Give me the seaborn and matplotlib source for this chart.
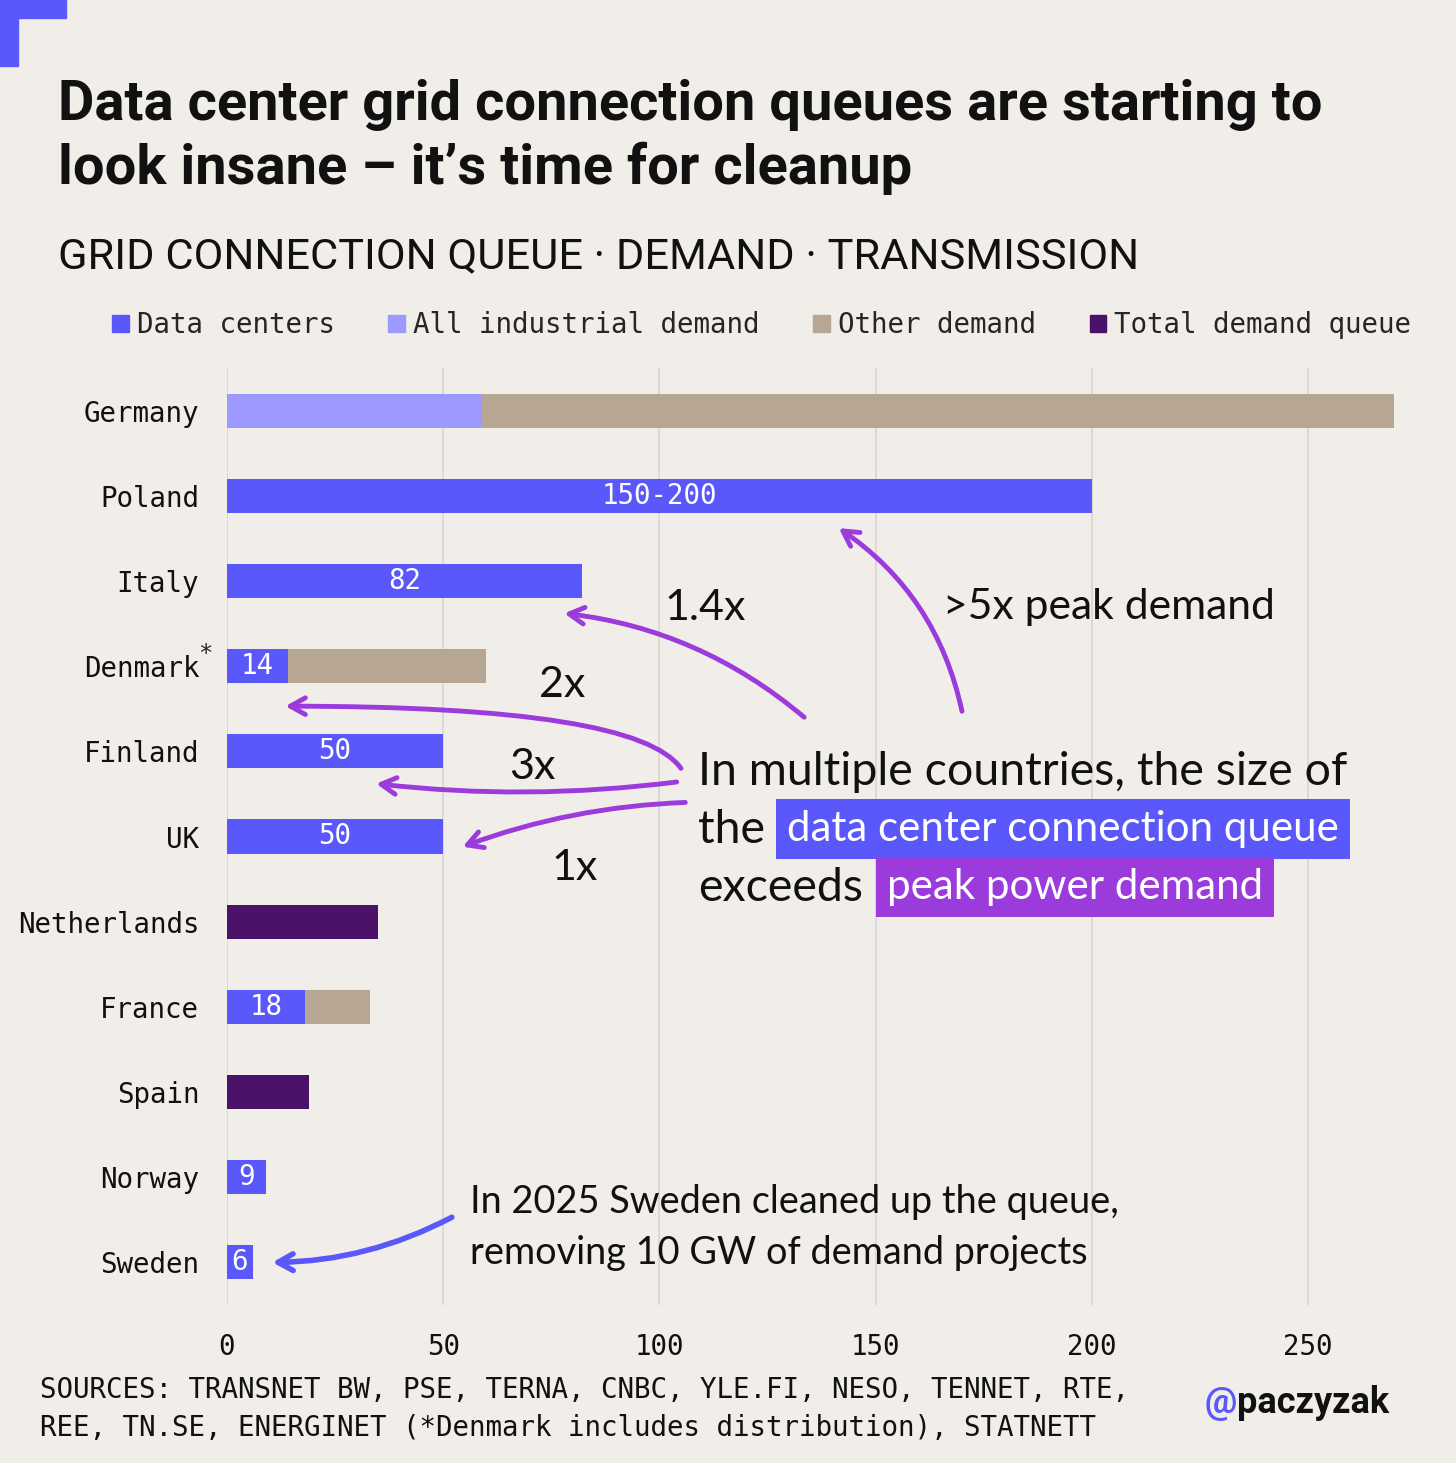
import matplotlib.pyplot as plt
import matplotlib.patches as mpatches
import pandas as pd
import seaborn as sns

W, H = 1456, 1463
BG = "#F1EEE9"
DC_COLOR = "#5A57FB"
IND_COLOR = "#9C99FF"
OTHER_COLOR = "#B7A693"
TOTAL_COLOR = "#4A1268"
PURPLE = "#9B3BDB"
MONO = "DejaVu Sans Mono"
HAND = "Lato"
MONO_SIZE = 19.8

countries = ["Germany", "Poland", "Italy", "Denmark", "Finland", "UK",
             "Netherlands", "France", "Spain", "Norway", "Sweden"]
data_centers = [0, 200, 82, 14, 50, 50, 0, 18, 0, 9, 6]
industrial = [59, 0, 0, 0, 0, 0, 0, 0, 0, 0, 0]
other_demand = [211, 0, 0, 46, 0, 0, 0, 15, 0, 0, 0]
total_queue = [0, 0, 0, 0, 0, 0, 35, 0, 19, 0, 0]
dc_labels = ["", "150-200", "82", "14", "50", "50", "", "18", "", "9", "6"]
x_ticks = [0, 50, 100, 150, 200, 250]


def fx(px):
    return px / W


def fy(py):
    return 1 - py / H


def text_after(fig, prev, s, y, gap=0, **kw):
    renderer = fig.canvas.get_renderer()
    bb = prev.get_window_extent(renderer)
    return fig.text((bb.x1 + gap) / W, y, s, **kw)


def main() -> None:
    df = pd.DataFrame({
        "country": countries,
        "dc": data_centers,
        "ind": industrial,
        "other": other_demand,
        "total": total_queue,
    })
    df["cum_ind"] = df["dc"] + df["ind"]
    df["cum_other"] = df["cum_ind"] + df["other"]

    sns.set_theme(style="white")
    plt.rcParams["font.family"] = [MONO, "DejaVu Sans"]

    fig = plt.figure(figsize=(W / 100, H / 100), dpi=100, facecolor=BG)
    ax = fig.add_axes([fx(227), fy(1305), fx(1403) - fx(227), fy(368) - fy(1305)])
    ax.set_facecolor(BG)

    # stacked bars drawn back to front as cumulative totals
    layers = [("cum_other", OTHER_COLOR), ("total", TOTAL_COLOR),
              ("cum_ind", IND_COLOR), ("dc", DC_COLOR)]
    for col, color in layers:
        sns.barplot(data=df, x=col, y="country", order=countries, orient="h",
                    color=color, saturation=1, width=0.4, linewidth=0, ax=ax)

    ax.bar_label(ax.containers[-1], labels=dc_labels, label_type="center",
                 color="white", fontsize=MONO_SIZE, family=MONO)

    ax.set_xlim(0, 272)
    ax.set_xticks(x_ticks)
    ax.set_xlabel("")
    ax.set_ylabel("")
    ax.xaxis.grid(True, color="#DAD6D1", linewidth=1.3)
    ax.set_axisbelow(True)
    for spine in ax.spines.values():
        spine.set_visible(False)
    ax.tick_params(axis="x", length=0, pad=20, labelsize=MONO_SIZE)
    ax.tick_params(axis="y", length=0, pad=20, labelsize=MONO_SIZE)
    for lab in ax.get_xticklabels() + ax.get_yticklabels():
        lab.set_family(MONO)
        lab.set_color("#111111")
    ax.text(-5.0, 2.86, "*", fontsize=17, ha="center", va="center",
            family=MONO, clip_on=False)

    # corner mark
    fig.patches.append(mpatches.Rectangle((0, fy(18)), fx(66), fy(0) - fy(18),
                                          transform=fig.transFigure, color=DC_COLOR))
    fig.patches.append(mpatches.Rectangle((0, fy(66)), fx(18), fy(0) - fy(66),
                                          transform=fig.transFigure, color=DC_COLOR))

    # titles
    fig.text(fx(58), fy(105), "Data center grid connection queues are starting to",
             fontsize=40.4, fontweight="bold", family="Roboto", va="center", color="#111111")
    fig.text(fx(58), fy(168), "look insane \u2013 it\u2019s time for cleanup",
             fontsize=40.4, fontweight="bold", family="Roboto", va="center", color="#111111")
    fig.text(fx(58), fy(257), "GRID CONNECTION QUEUE \u00b7 DEMAND \u00b7 TRANSMISSION",
             fontsize=31.2, family="Roboto", va="center", color="#111111")

    handles = [mpatches.Patch(color=DC_COLOR, label="Data centers"),
               mpatches.Patch(color=IND_COLOR, label="All industrial demand"),
               mpatches.Patch(color=OTHER_COLOR, label="Other demand"),
               mpatches.Patch(color=TOTAL_COLOR, label="Total demand queue")]
    fig.legend(handles=handles, loc="center left", bbox_to_anchor=(fx(112), fy(325)),
               ncol=4, frameon=False, borderaxespad=0, borderpad=0,
               handlelength=0.6, handleheight=0.6, handletextpad=0.3,
               columnspacing=1.95, prop={"family": MONO, "size": MONO_SIZE})

    # handwritten-style annotations
    hand = dict(family=HAND, color="#111111", va="center")
    fig.text(fx(705), fy(608), "1.4x", fontsize=31, ha="center", **hand)
    fig.text(fx(943), fy(607), ">5x peak demand", fontsize=30.7, ha="left", **hand)
    fig.text(fx(562), fy(685), "2x", fontsize=31, ha="center", **hand)
    fig.text(fx(532), fy(767), "3x", fontsize=31, ha="center", **hand)
    fig.text(fx(575), fy(868), "1x", fontsize=31, ha="center", **hand)

    main_size = 33.5
    hl_size = 30.3
    fig.text(fx(698), fy(772), "In multiple countries, the size of", fontsize=main_size,
             ha="left", **hand)
    t_the = fig.text(fx(698), fy(830), "the", fontsize=main_size, ha="left", **hand)
    text_after(fig, t_the, "data center connection queue", fy(829), gap=22,
               fontsize=hl_size, ha="left", family=HAND, color="white", va="center",
               bbox=dict(boxstyle="square,pad=0.26", facecolor=DC_COLOR, edgecolor="none"))
    t_exc = fig.text(fx(698), fy(888), "exceeds", fontsize=main_size, ha="left", **hand)
    text_after(fig, t_exc, "peak power demand", fy(887), gap=24,
               fontsize=hl_size, ha="left", family=HAND, color="white", va="center",
               bbox=dict(boxstyle="square,pad=0.26", facecolor=PURPLE, edgecolor="none"))

    fig.text(fx(470), fy(1202), "In 2025 Sweden cleaned up the queue,", fontsize=27.3,
             ha="left", **hand)
    fig.text(fx(470), fy(1253), "removing 10 GW of demand projects", fontsize=27.3,
             ha="left", **hand)

    arrow = dict(arrowstyle="->,head_length=0.9,head_width=0.5", color=PURPLE, lw=3.5,
                 shrinkA=0, shrinkB=0, capstyle="round")
    ax.annotate("", xy=(141.5, 1.38), xytext=(170, 3.53),
                arrowprops=dict(connectionstyle="arc3,rad=0.2", **arrow))
    ax.annotate("", xy=(78, 2.38), xytext=(133.5, 3.6),
                arrowprops=dict(connectionstyle="arc3,rad=0.15", **arrow))
    ax.annotate("", xy=(13.5, 3.47), xytext=(105, 4.2),
                arrowprops=dict(connectionstyle="angle3,angleA=125,angleB=0", **arrow))
    ax.annotate("", xy=(34.5, 4.38), xytext=(104, 4.36),
                arrowprops=dict(connectionstyle="arc3,rad=-0.06", **arrow))
    ax.annotate("", xy=(54.5, 5.12), xytext=(106, 4.6),
                arrowprops=dict(connectionstyle="arc3,rad=0.08", **arrow))
    blue_arrow = dict(arrow)
    blue_arrow["color"] = DC_COLOR
    blue_arrow["lw"] = 4
    ax.annotate("", xy=(10.5, 10.0), xytext=(52, 9.47),
                arrowprops=dict(connectionstyle="arc3,rad=-0.12", **blue_arrow))

    # footer
    fig.text(fx(40), fy(1409),
             "SOURCES: TRANSNET BW, PSE, TERNA, CNBC, YLE.FI, NESO, TENNET, RTE,\n"
             "REE, TN.SE, ENERGINET (*Denmark includes distribution), STATNETT",
             fontsize=MONO_SIZE, family=MONO, va="center", ha="left", linespacing=1.47,
             color="#111111")
    t_at = fig.text(fx(1205), fy(1403), "@", fontsize=26, fontweight="bold",
                    family="Roboto", color=DC_COLOR, va="center")
    text_after(fig, t_at, "paczyzak", fy(1403), fontsize=26, fontweight="bold",
               family="Roboto", color="#111111", va="center")

    fig.savefig("out.png", dpi=100, facecolor=BG)
    plt.close(fig)


if __name__ == "__main__":
    main()
